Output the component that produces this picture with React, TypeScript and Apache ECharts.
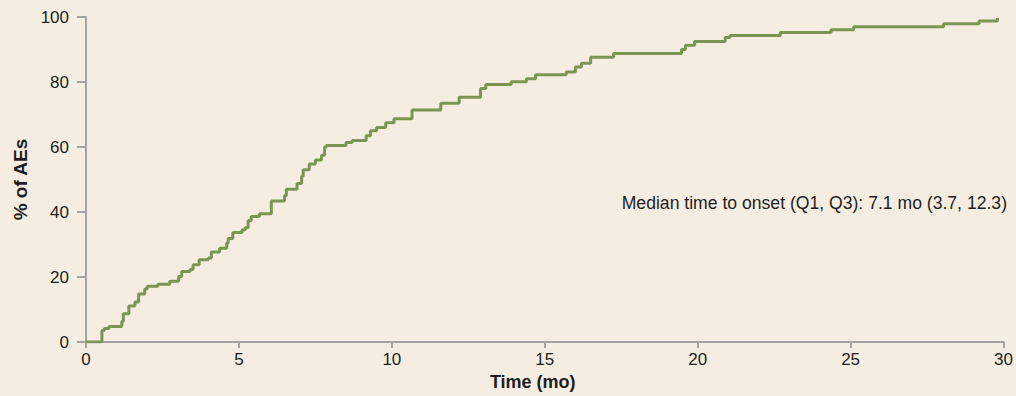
import React, { useEffect, useRef } from "react";
import * as echarts from "echarts";

// Cumulative incidence of AE onset: time (months) and cumulative % at each event
const months = [
  0, 0.52, 0.6, 0.75, 1.17, 1.22, 1.4, 1.6, 1.72, 1.92, 2.0, 2.35, 2.74, 3.03, 3.13,
  3.4, 3.5, 3.7, 4.0, 4.1, 4.37, 4.6, 4.65, 4.8, 5.1, 5.2, 5.3, 5.4, 5.67, 6.06,
  6.49, 6.55, 6.9, 7.05, 7.1, 7.3, 7.5, 7.7, 7.8, 7.86, 8.5, 8.7, 9.16, 9.3, 9.5,
  9.8, 10.07, 10.66, 11.6, 12.2, 12.9, 13.07, 13.9, 14.4, 14.7, 15.7, 16.0, 16.2,
  16.5, 17.25, 19.47, 19.6, 19.9, 20.9, 21.06, 22.7, 24.36, 25.1, 28.04, 29.2, 29.8,
];
const cumulativePct = [
  0, 3.6, 4.2, 4.8, 6.3, 8.7, 11.1, 12.3, 14.8, 16.3, 17.2, 17.8, 18.7, 20.2, 21.7,
  22.3, 23.8, 25.3, 25.9, 27.7, 28.9, 30.5, 31.9, 33.7, 34.5, 35.2, 37.3, 38.6, 39.5, 43.4,
  45.0, 47.0, 48.8, 51.0, 53.0, 54.8, 56.0, 57.5, 60.0, 60.5, 61.4, 62.0, 63.5, 65.0, 66.0,
  67.5, 68.7, 71.4, 73.5, 75.3, 78.0, 79.2, 80.1, 81.0, 82.2, 83.1, 84.6, 85.8,
  87.6, 88.8, 90.0, 91.3, 92.5, 93.7, 94.3, 95.2, 96.1, 97.0, 97.9, 98.8, 99.7,
];
const xTicks = [0, 5, 10, 15, 20, 25, 30];
const yTicks = [0, 20, 40, 60, 80, 100];
const medianNote = "Median time to onset (Q1, Q3): 7.1 mo (3.7, 12.3)";

const BG = "#f5ede1";
const AXIS = "#a3a3a3";
const TEXT = "#1e1e1e";
const LINE = "#7b9653";
const FONT = "'Liberation Sans', Arial, sans-serif";

export default function App() {
  const ref = useRef<HTMLDivElement>(null);

  useEffect(() => {
    if (!ref.current) return;
    const chart = echarts.init(ref.current, null, { renderer: "svg" });
    const points = months.map((m, i) => [m, cumulativePct[i]]);

    chart.setOption({
      animation: false,
      backgroundColor: BG,
      textStyle: { fontFamily: FONT },
      grid: { left: 86, right: 10, top: 17, bottom: 47, containLabel: false },
      xAxis: {
        type: "value",
        min: xTicks[0],
        max: xTicks[xTicks.length - 1],
        interval: 5,
        name: "Time (mo)",
        nameLocation: "middle",
        nameGap: 28,
        nameTextStyle: {
          color: TEXT,
          fontSize: 18,
          fontWeight: "bold",
          fontFamily: FONT,
          padding: [0, 24, 0, 0],
        },
        axisLine: { show: true, lineStyle: { color: AXIS, width: 2 } },
        axisTick: { show: true, length: 6, lineStyle: { color: AXIS, width: 2 } },
        axisLabel: { color: TEXT, fontSize: 17, margin: 9, fontFamily: FONT },
        splitLine: { show: false },
      },
      yAxis: {
        type: "value",
        min: yTicks[0],
        max: yTicks[yTicks.length - 1],
        interval: 20,
        name: "% of AEs",
        nameLocation: "middle",
        nameGap: 50,
        nameRotate: 90,
        nameTextStyle: {
          color: TEXT,
          fontSize: 19,
          fontWeight: "bold",
          fontFamily: FONT,
        },
        axisLine: { show: true, lineStyle: { color: AXIS, width: 2 } },
        axisTick: { show: true, inside: false, length: 9, lineStyle: { color: AXIS, width: 2 } },
        axisLabel: { color: TEXT, fontSize: 17, margin: 17, fontFamily: FONT },
        splitLine: { show: false },
      },
      series: [
        {
          type: "line",
          step: "end",
          data: points,
          showSymbol: false,
          lineStyle: { color: LINE, width: 3 },
          itemStyle: { color: LINE },
        },
      ],
      graphic: [
        {
          type: "text",
          right: 9,
          top: 194,
          style: {
            text: medianNote,
            fill: TEXT,
            fontSize: 17.6,
            fontFamily: FONT,
          },
        },
      ],
    });

    return () => chart.dispose();
  }, []);

  return (
    <div
      ref={ref}
      style={{ position: "absolute", left: 0, top: 0, width: 1016, height: 396, background: BG }}
    />
  );
}
